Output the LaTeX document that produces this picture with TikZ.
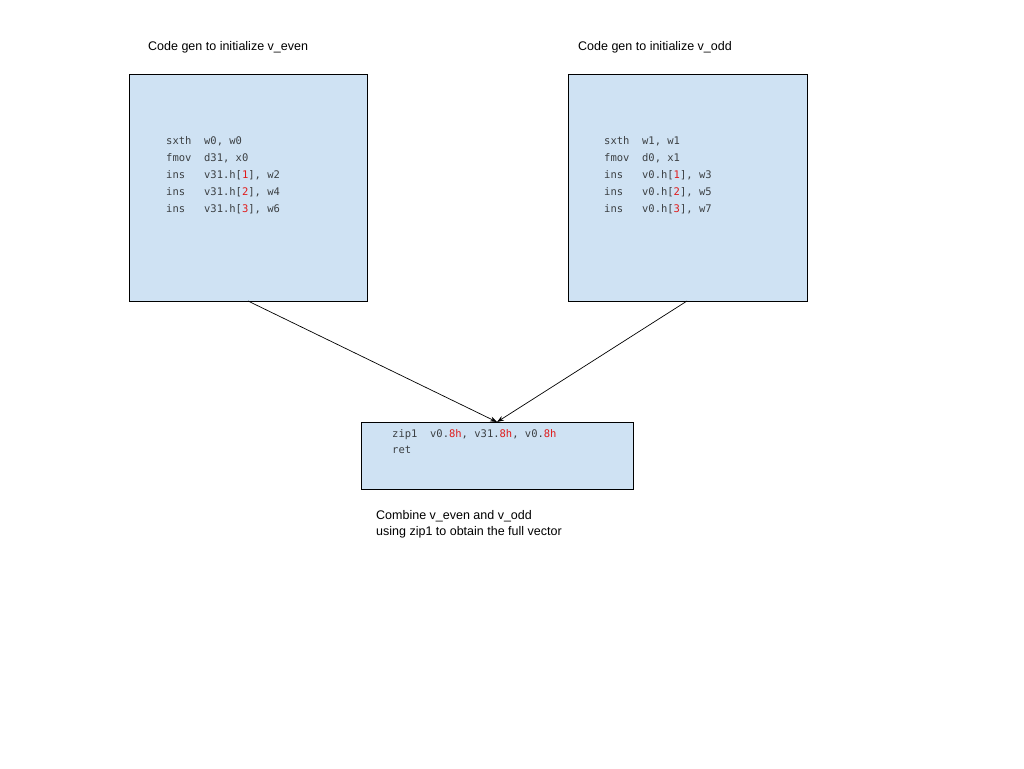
\documentclass[tikz,border=0pt]{standalone}
\usepackage{fontspec}
\setmainfont{Liberation Sans}
\newfontfamily\codefont{DejaVu Sans Mono}
\usetikzlibrary{arrows.meta}
\definecolor{boxfill}{HTML}{CFE2F3}
\definecolor{codegray}{HTML}{3C4043}
\definecolor{codered}{HTML}{E01B1B}
\newcommand{\rd}[1]{\textcolor{codered}{#1}}
\tikzset{
  box/.style={draw=black, fill=boxfill, line width=0.8pt},
  code/.style={anchor=north west, inner sep=0pt, font=\codefont\fontsize{10.5}{17}\selectfont, text=codegray, align=left},
  lbl/.style={anchor=west, inner sep=0pt, font=\fontsize{12.5}{16}\selectfont, align=left},
  conn/.style={-{Stealth[length=7pt,width=5pt]}, line width=0.7pt}
}
\begin{document}
\begin{tikzpicture}[x=1pt,y=-1pt]
\useasboundingbox (0,0) rectangle (1024,768);
\draw[box] (129,74) rectangle (367,301);
\draw[box] (568,74) rectangle (807,301);
\draw[box] (361,422) rectangle (633,489);
\coordinate (b1) at (248,301);
\coordinate (b2) at (687,301);
\coordinate (t3) at (497,422);
\node[lbl] (l1) at (148,47) {Code gen to initialize v\_even};
\node[lbl] (l2) at (578,47) {Code gen to initialize v\_odd};
\node[lbl, anchor=north west] (l3) at (376,510) {Combine v\_even and v\_odd\\using zip1 to obtain the full vector};
\node[code] (c1) at (166,136) {sxth\ \ w0,\ w0\\fmov\ \ d31,\ x0\\ins\ \ \ v31.h[\rd{1}],\ w2\\ins\ \ \ v31.h[\rd{2}],\ w4\\ins\ \ \ v31.h[\rd{3}],\ w6};
\node[code] (c2) at (604,136) {sxth\ \ w1,\ w1\\fmov\ \ d0,\ x1\\ins\ \ \ v0.h[\rd{1}],\ w3\\ins\ \ \ v0.h[\rd{2}],\ w5\\ins\ \ \ v0.h[\rd{3}],\ w7};
\node[code, font=\codefont\fontsize{10.5}{16}\selectfont] (c3) at (392,429) {zip1\ \ v0.\rd{8h},\ v31.\rd{8h},\ v0.\rd{8h}\\ret};
\draw[conn] (b1) -- (t3);
\draw[conn] (b2) -- (t3);
\end{tikzpicture}
\end{document}
